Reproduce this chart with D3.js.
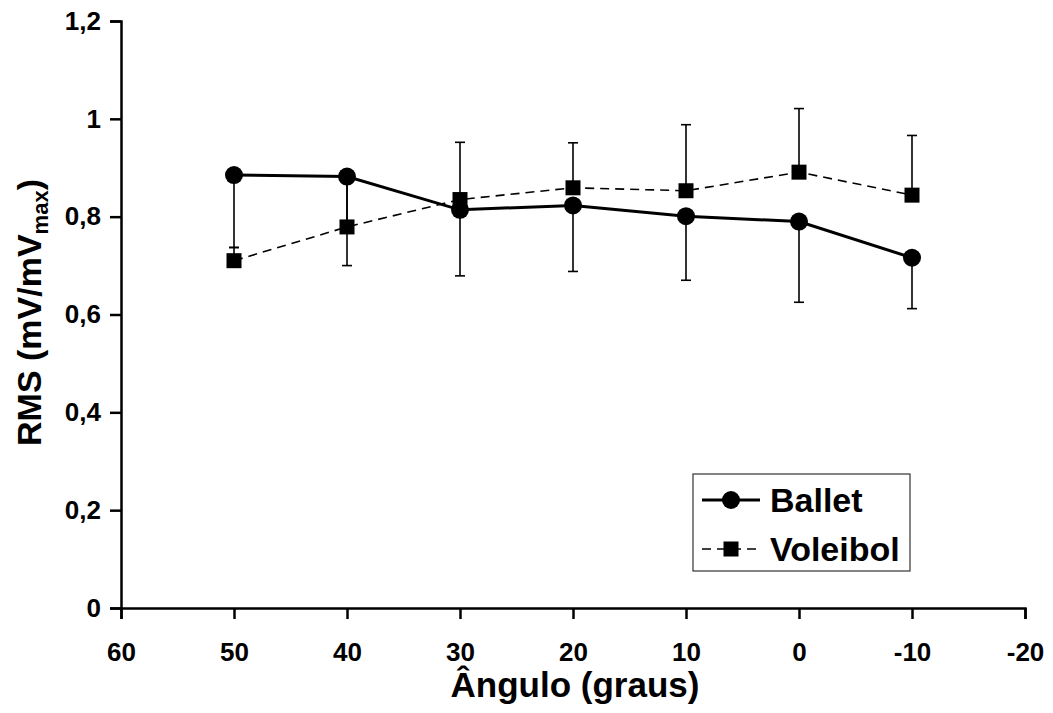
<!DOCTYPE html>
<html>
<head>
<meta charset="utf-8">
<script src="https://cdn.jsdelivr.net/npm/d3@7"></script>
<style>
  body { margin: 0; background: #fff; }
  svg text { font-family: "Liberation Sans", Arial, sans-serif; font-weight: bold; fill: #000; }
</style>
</head>
<body>
<div id="chart"></div>
<script>
// Data
const angles = [50, 40, 30, 20, 10, 0, -10];
const ballet = [0.885, 0.882, 0.814, 0.823, 0.801, 0.790, 0.716];
const balletErrMinus = [0.148, 0.182, 0.135, 0.135, 0.131, 0.165, 0.104];
const voleibol = [0.710, 0.779, 0.835, 0.859, 0.853, 0.891, 0.844];
const voleibolErrPlus = [0.027, 0.09, 0.117, 0.092, 0.135, 0.130, 0.122];
const xTicks = [60, 50, 40, 30, 20, 10, 0, -10, -20];
const yTicks = [0, 0.2, 0.4, 0.6, 0.8, 1, 1.2];

const W = 1053, H = 713;
const margin = {top: 21, right: 28, bottom: 105, left: 121};

const svg = d3.select('#chart').append('svg')
    .attr('width', W)
    .attr('height', H);

const x = d3.scaleLinear().domain([60, -20]).range([margin.left, W - margin.right]);
const y = d3.scaleLinear().domain([0, 1.2]).range([H - margin.bottom, margin.top]);

const fmt = d => d === 0 || d === 1 ? String(d) : d3.format('.1f')(d).replace('.', ',');

// Axes
const yAxis = svg.append('g')
    .attr('transform', `translate(${margin.left},0)`)
    .call(d3.axisLeft(y).tickValues(yTicks).tickFormat(fmt).tickSizeOuter(0).tickSize(11).tickPadding(9));

const xAxis = svg.append('g')
    .attr('transform', `translate(0,${H - margin.bottom})`)
    .call(d3.axisBottom(x).tickValues(xTicks).tickFormat(d => String(d)).tickSizeOuter(0).tickSize(11).tickPadding(24));

[xAxis, yAxis].forEach(a => {
    a.attr('font-size', 26);
    a.select('.domain').attr('stroke', '#000').attr('stroke-width', 2.5);
    a.selectAll('.tick line').attr('stroke', '#000').attr('stroke-width', 2.5);
    a.selectAll('.tick text')
        .attr('font-size', 26)
        .attr('font-family', '"Liberation Sans", Arial, sans-serif')
        .attr('font-weight', 'bold')
        .attr('fill', '#000');
});

// Axis titles
svg.append('text')
    .attr('x', (x(60) + x(-20)) / 2 + 2)
    .attr('y', 697)
    .attr('text-anchor', 'middle')
    .attr('font-size', 35)
    .text('Ângulo (graus)');

const yTitle = svg.append('text')
    .attr('transform', `translate(41,${(y(0) + y(1.2)) / 2 - 2}) rotate(-90)`)
    .attr('text-anchor', 'middle')
    .attr('font-size', 34);
yTitle.append('tspan').text('RMS (mV/mV');
yTitle.append('tspan').attr('font-size', 22).attr('dy', 7).text('max');
yTitle.append('tspan').attr('dy', -7).text(')');

// Lines
const lineGen = d3.line().x(d => x(d.a)).y(d => y(d.v));
const balletData = angles.map((a, i) => ({a, v: ballet[i], e: balletErrMinus[i]}));
const voleibolData = angles.map((a, i) => ({a, v: voleibol[i], e: voleibolErrPlus[i]}));

svg.append('path')
    .attr('d', lineGen(voleibolData))
    .attr('fill', 'none')
    .attr('stroke', '#000')
    .attr('stroke-width', 1.6)
    .attr('stroke-dasharray', '9,6');

svg.append('path')
    .attr('d', lineGen(balletData))
    .attr('fill', 'none')
    .attr('stroke', '#000')
    .attr('stroke-width', 3);

// Error bars: ballet minus, voleibol plus
const capW = 5;
function errBars(data, sign) {
    const g = svg.append('g').attr('stroke', '#000').attr('stroke-width', 1.6);
    data.forEach(d => {
        const y0 = y(d.v), y1 = y(d.v + sign * d.e), cx = x(d.a);
        g.append('line').attr('x1', cx).attr('x2', cx).attr('y1', y0).attr('y2', y1);
        g.append('line').attr('x1', cx - capW).attr('x2', cx + capW).attr('y1', y1).attr('y2', y1);
    });
}
errBars(balletData, -1);
errBars(voleibolData, 1);

// Markers
const sq = 15;
svg.append('g').selectAll('rect')
    .data(voleibolData).enter().append('rect')
    .attr('x', d => x(d.a) - sq / 2)
    .attr('y', d => y(d.v) - sq / 2)
    .attr('width', sq).attr('height', sq)
    .attr('fill', '#000');

svg.append('g').selectAll('circle')
    .data(balletData).enter().append('circle')
    .attr('cx', d => x(d.a))
    .attr('cy', d => y(d.v))
    .attr('r', 9)
    .attr('fill', '#000');

// Legend
const lg = svg.append('g').attr('transform', 'translate(693,474)');
lg.append('rect')
    .attr('width', 217).attr('height', 97)
    .attr('fill', '#fff')
    .attr('stroke', '#333')
    .attr('stroke-width', 1.2);

lg.append('line').attr('x1', 9).attr('x2', 67).attr('y1', 26).attr('y2', 26)
    .attr('stroke', '#000').attr('stroke-width', 3);
lg.append('circle').attr('cx', 38).attr('cy', 26).attr('r', 9).attr('fill', '#000');
lg.append('text').attr('x', 77).attr('y', 38).attr('font-size', 34).text('Ballet');

lg.append('line').attr('x1', 9).attr('x2', 67).attr('y1', 75).attr('y2', 75)
    .attr('stroke', '#000').attr('stroke-width', 1.6).attr('stroke-dasharray', '9,6');
lg.append('rect').attr('x', 38 - sq / 2).attr('y', 75 - sq / 2).attr('width', sq).attr('height', sq).attr('fill', '#000');
lg.append('text').attr('x', 77).attr('y', 87).attr('font-size', 34).text('Voleibol');
</script>
</body>
</html>
